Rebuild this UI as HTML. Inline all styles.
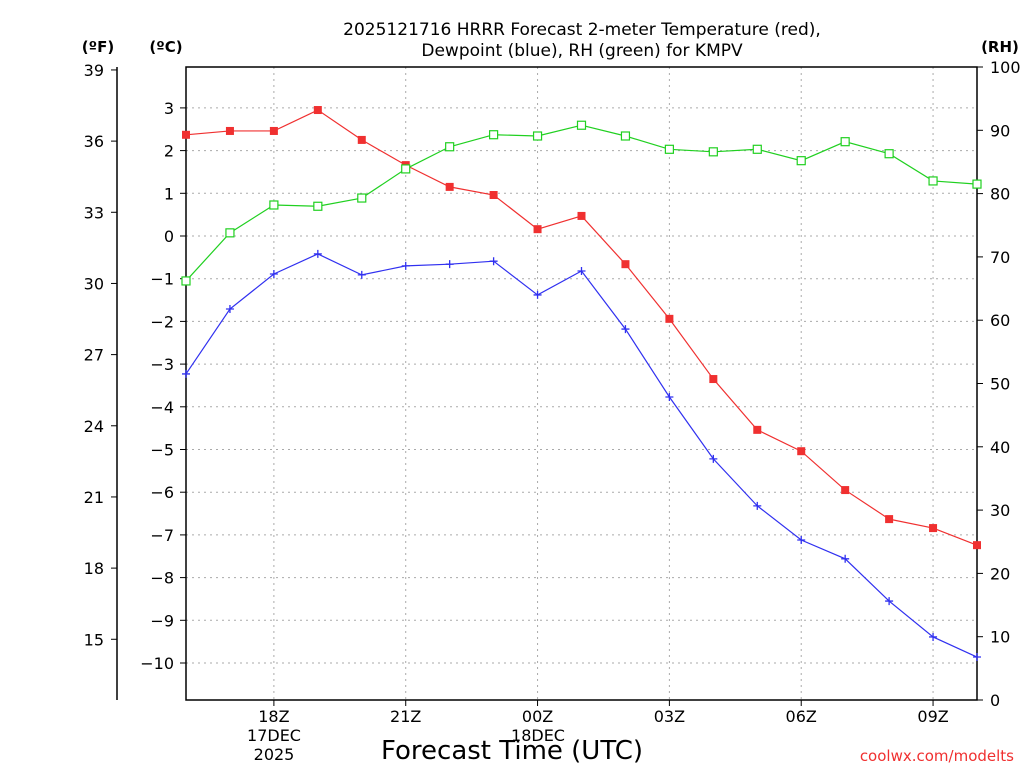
<!DOCTYPE html>
<html><head><meta charset="utf-8"><style>
body{margin:0;background:#fff}
svg{display:block;font-family:"DejaVu Sans","Liberation Sans",sans-serif}
</style></head><body>
<svg id="c" width="1024" height="768" xmlns="http://www.w3.org/2000/svg">
<text x="582" y="35" text-anchor="middle" font-size="17">2025121716 HRRR Forecast 2-meter Temperature (red),</text>
<text x="582" y="56" text-anchor="middle" font-size="17">Dewpoint (blue), RH (green) for KMPV</text>
<text x="98" y="52" text-anchor="middle" font-size="15" font-weight="bold">(ºF)</text>
<text x="166" y="52" text-anchor="middle" font-size="15" font-weight="bold">(ºC)</text>
<text x="1000" y="52" text-anchor="middle" font-size="15" font-weight="bold">(RH)</text>
<text x="512" y="759" text-anchor="middle" font-size="26">Forecast Time (UTC)</text>
<text x="1014" y="761" text-anchor="end" font-size="15" fill="#f03030">coolwx.com/modelts</text>
<g id="grid"></g><g id="axes"></g><g id="series"></g>
</svg>
<script>
const hours=[0,1,2,3,4,5,6,7,8,9,10,11,12,13,14,15,16,17,18];
const tempC=[2.37,2.46,2.46,2.95,2.25,1.66,1.15,0.96,0.16,0.47,-0.66,-1.94,-3.35,-4.54,-5.04,-5.95,-6.63,-6.84,-7.24];
const dewC=[-3.23,-1.71,-0.89,-0.42,-0.91,-0.70,-0.66,-0.59,-1.38,-0.82,-2.18,-3.77,-5.22,-6.32,-7.12,-7.56,-8.55,-9.39,-9.86];
const rh=[66.2,73.8,78.2,78.0,79.3,83.9,87.4,89.3,89.1,90.8,89.1,87.0,86.6,87.0,85.2,88.2,86.3,82.0,81.5];
const cTicks=[3,2,1,0,-1,-2,-3,-4,-5,-6,-7,-8,-9,-10];
const fTicks=[39,36,33,30,27,24,21,18,15];
const rhTicks=[100,90,80,70,60,50,40,30,20,10,0];
const xTickHours=[2,5,8,11,14,17];
const xTickLabels=["18Z","21Z","00Z","03Z","06Z","09Z"];
const L=186,R=977,T=67,B=700;
const x=h=>L+h*(R-L)/18;
const yC=c=>236-c*42.7;
const yF=f=>yC((f-32)/1.8);
const yR=v=>B-v*(B-T)/100;
const NS="http://www.w3.org/2000/svg";
function mk(tag,at,parent,txt){const e=document.createElementNS(NS,tag);for(const k in at)e.setAttribute(k,at[k]);if(txt!==undefined)e.textContent=txt;document.getElementById(parent).appendChild(e);return e;}
// grid
xTickHours.forEach((h,i)=>{const e=mk('line',{x1:x(h),x2:x(h),y1:T,y2:B,stroke:'#aaa','stroke-dasharray':'2,4'},'grid');

});
cTicks.forEach(c=>{const e=mk('line',{x1:L,x2:R,y1:yC(c),y2:yC(c),stroke:'#aaa','stroke-dasharray':'2,4'},'grid');

});
// frame
let fr=mk('rect',{x:L,y:T,width:R-L,height:B-T,fill:'none',stroke:'#000','stroke-width':1.5},'axes');


let fa=mk('line',{x1:117,x2:117,y1:T,y2:B,stroke:'#000','stroke-width':1.5},'axes');


cTicks.forEach(c=>{mk('line',{x1:L-6,x2:L,y1:yC(c),y2:yC(c),stroke:'#000'},'axes');
const t=mk('text',{x:L-12,y:yC(c)+6,'text-anchor':'end','font-size':16},'axes',String(c).replace('-','−'));

});
fTicks.forEach(f=>{mk('line',{x1:111,x2:117,y1:yF(f),y2:yF(f),stroke:'#000'},'axes');
const t=mk('text',{x:104,y:yF(f)+6,'text-anchor':'end','font-size':16},'axes',f);

});
rhTicks.forEach(v=>{mk('line',{x1:R,x2:R+6,y1:yR(v),y2:yR(v),stroke:'#000'},'axes');
const t=mk('text',{x:990,y:yR(v)+6,'font-size':16},'axes',v);

});
xTickHours.forEach((h,i)=>{mk('line',{x1:x(h),x2:x(h),y1:B,y2:B+6,stroke:'#000'},'axes');
const t=mk('text',{x:x(h),y:722,'text-anchor':'middle','font-size':16},'axes',xTickLabels[i]);

});
[["17DEC",274,741],["2025",274,760],["18DEC",538,741]].forEach(d=>{const t=mk('text',{x:d[1],y:d[2],'text-anchor':'middle','font-size':16},'axes',d[0]);

});
// series
function line(vals,yf,col,name){const p=mk('polyline',{points:vals.map((v,i)=>x(hours[i])+','+yf(v)).join(' '),fill:'none',stroke:col,'stroke-width':1.2},'series');

}
line(tempC,yC,'#f03030','temperature');
line(dewC,yC,'#3030f0','dewpoint');
line(rh,yR,'#20d020','rh');
tempC.forEach((v,i)=>{const m=mk('rect',{x:x(hours[i])-4,y:yC(v)-4,width:8,height:8,fill:'#f03030'},'series');

});
rh.forEach((v,i)=>{const m=mk('rect',{x:x(hours[i])-4,y:yR(v)-4,width:8,height:8,fill:'#fff',stroke:'#20d020','stroke-width':1.2},'series');

});
dewC.forEach((v,i)=>{const cx=x(hours[i]),cy=yC(v);
const m=mk('path',{d:`M${cx-4},${cy}H${cx+4}M${cx},${cy-4}V${cy+4}`,stroke:'#3030f0','stroke-width':1.3},'series');

});
</script>
</body></html>
